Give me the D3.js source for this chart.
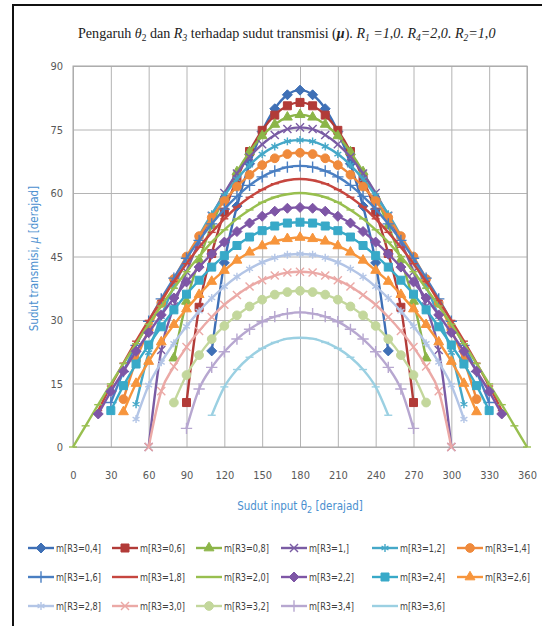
<!DOCTYPE html>
<html>
<head>
<meta charset="utf-8">
<script src="https://cdn.jsdelivr.net/npm/d3@7"></script>
<style>
  body { margin: 0; background: #fff; }
  svg { display: block; }
</style>
</head>
<body>
<div id="chart"></div>
<script>
// values, theta2 every 10 degrees (null = no point)
var _ = null;
var theta = [0,10,20,30,40,50,60,70,80,90,100,110,120,130,140,150,160,170,180,
             190,200,210,220,230,240,250,260,270,280,290,300,310,320,330,340,350,360];
var xTicks = [0,30,60,90,120,150,180,210,240,270,300,330,360];
var yTicks = [0,15,30,45,60,75,90];
var seriesNames = ["m[R3=0,4]","m[R3=0,6]","m[R3=0,8]","m[R3=1,]","m[R3=1,2]","m[R3=1,4]",
                   "m[R3=1,6]","m[R3=1,8]","m[R3=2,0]","m[R3=2,2]","m[R3=2,4]","m[R3=2,6]",
                   "m[R3=2,8]","m[R3=3,0]","m[R3=3,2]","m[R3=3,4]","m[R3=3,6]"];

var mu04 = [_,_,_,_,_,_,_,_,_,_,_,22.7,43.5,56.9,66.9,74.5,79.9,83.2,84.3,83.2,79.9,74.5,66.9,56.9,43.5,22.7,_,_,_,_,_,_,_,_,_,_,_];
var mu06 = [_,_,_,_,_,_,_,_,_,10.5,33.0,45.7,55.5,63.4,69.8,74.8,78.4,80.6,81.4,80.6,78.4,74.8,69.8,63.4,55.5,45.7,33.0,10.5,_,_,_,_,_,_,_,_,_];
var mu08 = [_,_,_,_,_,_,_,_,21.0,34.4,44.2,52.3,59.2,65.0,69.7,73.5,76.2,77.9,78.5,77.9,76.2,73.5,69.7,65.0,59.2,52.3,44.2,34.4,21.0,_,_,_,_,_,_,_,_];
var mu10 = [_,_,_,_,_,_,0,22.9,33.2,41.4,48.5,54.6,60.0,64.6,68.5,71.5,73.7,75.1,75.5,75.1,73.7,71.5,68.5,64.6,60.0,54.6,48.5,41.4,33.2,22.9,0,_,_,_,_,_,_];
var mu12 = [_,_,_,_,_,10.1,22.3,30.8,37.9,44.2,49.9,55.0,59.4,63.3,66.6,69.2,71.0,72.2,72.5,72.2,71.0,69.2,66.6,63.3,59.4,55.0,49.9,44.2,37.9,30.8,22.3,10.1,_,_,_,_,_];
var mu14 = [_,_,_,_,11.3,20.5,27.7,34.0,39.7,45.0,49.8,54.2,58.1,61.5,64.3,66.6,68.2,69.2,69.5,69.2,68.2,66.6,64.3,61.5,58.1,54.2,49.8,45.0,39.7,34.0,27.7,20.5,11.3,_,_,_,_];
var mu16 = [_,_,_,10.5,17.8,24.0,29.7,35.0,39.9,44.6,48.8,52.7,56.2,59.2,61.8,63.8,65.2,66.1,66.4,66.1,65.2,63.8,61.8,59.2,56.2,52.7,48.8,44.6,39.9,35.0,29.7,24.0,17.8,10.5,_,_,_];
var mu18 = [_,_,8.6,14.4,19.8,25.0,29.9,34.6,39.1,43.3,47.2,50.7,53.9,56.7,59.0,60.8,62.2,63.0,63.3,63.0,62.2,60.8,59.0,56.7,53.9,50.7,47.2,43.3,39.1,34.6,29.9,25.0,19.8,14.4,8.6,_,_];
var mu20 = [0,5.0,10.0,14.9,19.7,24.4,29.0,33.3,37.5,41.4,45.0,48.4,51.3,53.9,56.0,57.8,59.0,59.7,60.0,59.7,59.0,57.8,56.0,53.9,51.3,48.4,45.0,41.4,37.5,33.3,29.0,24.4,19.7,14.9,10.0,5.0,0];
var mu22 = [_,_,7.8,13.1,17.9,22.6,27.0,31.2,35.2,39.0,42.5,45.6,48.4,50.9,52.9,54.5,55.7,56.4,56.6,56.4,55.7,54.5,52.9,50.9,48.4,45.6,42.5,39.0,35.2,31.2,27.0,22.6,17.9,13.1,7.8,_,_];
var mu24 = [_,_,_,8.6,14.5,19.6,24.1,28.4,32.4,36.1,39.4,42.5,45.2,47.6,49.6,51.1,52.2,52.9,53.1,52.9,52.2,51.1,49.6,47.6,45.2,42.5,39.4,36.1,32.4,28.4,24.1,19.6,14.5,8.6,_,_,_];
var mu26 = [_,_,_,_,8.3,15.0,20.2,24.8,28.9,32.6,36.0,39.1,41.7,44.1,46.0,47.5,48.6,49.2,49.5,49.2,48.6,47.5,46.0,44.1,41.7,39.1,36.0,32.6,28.9,24.8,20.2,15.0,8.3,_,_,_,_];
var mu28 = [_,_,_,_,_,6.6,14.6,20.0,24.5,28.5,32.1,35.2,37.9,40.2,42.1,43.6,44.7,45.4,45.6,45.4,44.7,43.6,42.1,40.2,37.9,35.2,32.1,28.5,24.5,20.0,14.6,6.6,_,_,_,_,_];
var mu30 = [_,_,_,_,_,_,0,13.2,19.0,23.6,27.4,30.7,33.6,35.9,37.9,39.4,40.5,41.2,41.4,41.2,40.5,39.4,37.9,35.9,33.6,30.7,27.4,23.6,19.0,13.2,0,_,_,_,_,_,_];
var mu32 = [_,_,_,_,_,_,_,_,10.5,17.0,21.7,25.5,28.6,31.1,33.2,34.8,36.0,36.6,36.9,36.6,36.0,34.8,33.2,31.1,28.6,25.5,21.7,17.0,10.5,_,_,_,_,_,_,_,_];
var mu34 = [_,_,_,_,_,_,_,_,_,4.4,13.7,18.8,22.5,25.5,27.8,29.6,30.8,31.5,31.8,31.5,30.8,29.6,27.8,25.5,22.5,18.8,13.7,4.4,_,_,_,_,_,_,_,_,_];
var mu36 = [_,_,_,_,_,_,_,_,_,_,_,7.5,14.2,18.3,21.2,23.3,24.7,25.6,25.8,25.6,24.7,23.3,21.2,18.3,14.2,7.5,_,_,_,_,_,_,_,_,_,_,_];

var allValues = [mu04,mu06,mu08,mu10,mu12,mu14,mu16,mu18,mu20,mu22,mu24,mu26,mu28,mu30,mu32,mu34,mu36];

// look of each series (Excel style colours and markers)
var colors = ["#3f70b6","#b23b38","#8cb548","#7a5ca4","#45a8c8","#ef8a3c",
              "#4a7fc2","#c6463f","#98bf4f","#7e56a6","#38a9c8","#f7953c",
              "#b3c5e6","#eba9a6","#c3d79c","#b7a7d0","#9bd0e2"];
var markers = ["diamond","square","triangle","times","asterisk","circle",
               "plus","dash","dash","diamond","square","triangle",
               "asterisk","times","circle","plus","dash"];

var W = 542, H = 626;
var margin = {left: 73, right: 15, top: 66, bottom: 179};
var plotW = W - margin.left - margin.right,
    plotH = H - margin.top - margin.bottom;

var svg = d3.select("#chart").append("svg")
  .attr("width", W).attr("height", H);

var x = d3.scaleLinear().domain([0, 360]).range([margin.left, margin.left + plotW]);
var y = d3.scaleLinear().domain([0, 90]).range([margin.top + plotH, margin.top]);

var tickFont = "'DejaVu Sans Condensed','Liberation Sans Narrow',Arial,sans-serif";

// frame lines of the chart object
svg.append("line").attr("x1", 13).attr("x2", 13).attr("y1", 5).attr("y2", H)
  .style("stroke", "#111").style("stroke-width", 2);
svg.append("line").attr("x1", 12).attr("x2", W).attr("y1", 5).attr("y2", 5)
  .style("stroke", "#111").style("stroke-width", 2);

// gridlines
svg.append("g").attr("class", "grid")
  .attr("transform", "translate(" + margin.left + ",0)")
  .call(d3.axisLeft(y).tickValues(yTicks).tickSize(-plotW).tickFormat(""))
  .call(function(g){ g.select(".domain").remove() })
  .selectAll("line").style("stroke", "#b4b4b4").style("stroke-width", 1);

svg.append("g").attr("class", "grid")
  .attr("transform", "translate(0," + (margin.top + plotH) + ")")
  .call(d3.axisBottom(x).tickValues(xTicks).tickSize(-plotH).tickFormat(""))
  .call(function(g){ g.select(".domain").remove() })
  .selectAll("line").style("stroke", "#b4b4b4").style("stroke-width", 1);

svg.append("rect")
  .attr("x", margin.left).attr("y", margin.top)
  .attr("width", plotW).attr("height", plotH)
  .style("fill", "none").style("stroke", "#a6a6a6").style("stroke-width", 1);

// tick labels
var xAxis = svg.append("g")
  .attr("transform", "translate(0," + (margin.top + plotH) + ")")
  .call(d3.axisBottom(x).tickValues(xTicks).tickSize(0).tickPadding(24));
xAxis.select(".domain").remove();
xAxis.selectAll("text").style("font-family", tickFont).style("font-size", "11px").style("fill", "#595959");

var yAxis = svg.append("g")
  .attr("transform", "translate(" + margin.left + ",0)")
  .call(d3.axisLeft(y).tickValues(yTicks).tickSize(0).tickPadding(10));
yAxis.select(".domain").remove();
yAxis.selectAll("text").style("font-family", tickFont).style("font-size", "11px").style("fill", "#595959");

// series
function markerPath(kind) {
  if (kind == "diamond") return "M0,-5L5,0L0,5L-5,0Z";
  if (kind == "square") return d3.symbol(d3.symbolSquare, 64)();
  if (kind == "triangle") return d3.symbol(d3.symbolTriangle, 42)();
  if (kind == "circle") return d3.symbol(d3.symbolCircle, 60)();
  if (kind == "times") return d3.symbol(d3.symbolTimes, 44)();
  if (kind == "plus") return d3.symbol(d3.symbolPlus, 44)();
  if (kind == "asterisk") return d3.symbol(d3.symbolAsterisk, 44)();
  return "M-4,0H4";
}
var strokeOnly = {times: 1, plus: 1, asterisk: 1, dash: 1};

var line = d3.line()
  .defined(function(d){ return d != null })
  .x(function(d, i){ return x(theta[i]) })
  .y(function(d){ return y(d) })
  .curve(d3.curveMonotoneX);

allValues.forEach(function(vals, s) {
  var g = svg.append("g").attr("class", "series");
  g.append("path").datum(vals)
    .attr("d", line)
    .style("fill", "none")
    .style("stroke", colors[s])
    .style("stroke-width", 2.4);

  var pts = vals.map(function(v, i){ return {t: theta[i], v: v} })
    .filter(function(d){ return d.v != null });
  g.selectAll(".mk").data(pts).enter().append("path")
    .attr("class", "mk")
    .attr("transform", function(d){ return "translate(" + x(d.t) + "," + y(d.v) + ")" })
    .attr("d", markerPath(markers[s]))
    .style("fill", strokeOnly[markers[s]] ? "none" : colors[s])
    .style("stroke", colors[s])
    .style("stroke-width", strokeOnly[markers[s]] ? 1.4 : 1);
});

// title
var title = svg.append("text")
  .attr("x", 0).attr("y", 38)
  .style("font-family", "'Liberation Serif','Times New Roman',serif")
  .style("font-size", "15px")
  .style("fill", "#222");
var parts = [
  ["Pengaruh ", ""], ["θ", "i"], ["2", "sub"], [" dan ", ""], ["R", "i"], ["3", "subi"],
  [" terhadap sudut transmisi (", ""], ["μ", "bi"], ["). ", ""],
  ["R", "i"], ["1", "subi"], [" =1,0. R", "i"], ["4", "subi"], ["=2,0. R", "i"], ["2", "subi"], ["=1,0", "i"]
];
var shift = 0;
parts.forEach(function(p) {
  var ts = title.append("tspan").text(p[0]);
  var isSub = p[1].indexOf("sub") == 0;
  var dy = (isSub ? 3 : 0) - shift;
  shift = isSub ? 3 : 0;
  if (dy) ts.attr("dy", dy);
  if (isSub) ts.style("font-size", "10px");
  if (p[1].indexOf("i") >= 0) ts.style("font-style", "italic");
  if (p[1] == "bi") ts.style("font-weight", "bold");
});
var tw = title.node().getComputedTextLength();
var targetW = 418, cx = 287;
title.attr("transform", "translate(" + (cx - targetW / 2) + ",0) scale(" + (targetW / tw) + ",1)");

// axis titles
var axisTitleColor = "#4a8fcf";
var yTitle = svg.append("text")
  .attr("transform", "translate(38," + (margin.top + plotH / 2 + 2) + ") rotate(-90)")
  .attr("text-anchor", "middle")
  .style("font-family", tickFont).style("font-size", "11.5px")
  .style("fill", axisTitleColor);
yTitle.append("tspan").text("Sudut transmisi, ");
yTitle.append("tspan").style("font-style", "italic").text("μ");
yTitle.append("tspan").text(" [derajad]");

var xTitle = svg.append("text")
  .attr("x", margin.left + plotW / 2).attr("y", 510)
  .attr("text-anchor", "middle")
  .style("font-family", tickFont).style("font-size", "11.5px")
  .style("fill", axisTitleColor);
xTitle.append("tspan").text("Sudut input θ");
xTitle.append("tspan").attr("dy", 3).style("font-size", "9px").text("2");
xTitle.append("tspan").attr("dy", -3).text(" [derajad]");

// legend
var legX = [28, 112, 196, 281, 372, 457];
var legY = [548, 577, 606];
seriesNames.forEach(function(name, s) {
  var lx = legX[s % 6], ly = legY[Math.floor(s / 6)];
  var g = svg.append("g").attr("transform", "translate(" + lx + "," + ly + ")");
  g.append("line").attr("x1", 0).attr("x2", 26).attr("y1", 0).attr("y2", 0)
    .style("stroke", colors[s]).style("stroke-width", 2.4);
  g.append("path").attr("transform", "translate(13,0)")
    .attr("d", markerPath(markers[s]))
    .style("fill", strokeOnly[markers[s]] ? "none" : colors[s])
    .style("stroke", colors[s])
    .style("stroke-width", strokeOnly[markers[s]] ? 1.4 : 1);
  g.append("text").attr("x", 28).attr("y", 4)
    .attr("textLength", name.length > 8 ? 45 : 40)
    .attr("lengthAdjust", "spacingAndGlyphs")
    .style("font-family", tickFont).style("font-size", "11px")
    .style("fill", "#404040")
    .text(name);
});
</script>
</body>
</html>
